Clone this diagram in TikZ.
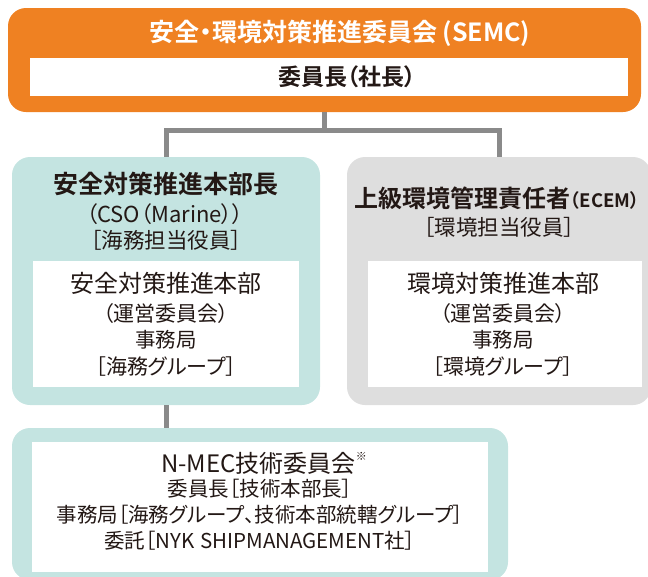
\documentclass[tikz,border=0pt]{standalone}
\usepackage{fontspec}
\setmainfont{Noto Sans CJK JP}[BoldFont={Noto Sans CJK JP Bold},RawFeature=+palt]
\definecolor{semcorange}{HTML}{EF8122}
\definecolor{tealfill}{HTML}{C4E4E1}
\definecolor{grayfill}{HTML}{DEDEDE}
\definecolor{connc}{HTML}{8A8A8A}
\definecolor{txt}{HTML}{231815}
\newcommand{\fs}[1]{\fontsize{#1}{#1}\selectfont}
\begin{document}
\begin{tikzpicture}[x=1pt,y=-1pt,
  outerbox/.style={rounded corners=18pt, inner sep=0pt},
  whitebox/.style={fill=white, inner sep=0pt},
  conn/.style={draw=connc, line width=5pt},
  lbl/.style={inner sep=0pt, text=txt, anchor=center}]
\useasboundingbox (0,0) rectangle (648,576);
\clip (0,0) rectangle (648,576);
% top orange
\node[outerbox, fill=semcorange, minimum width=633pt, minimum height=104pt] (semc) at (324.5,60) {};
\node[whitebox, minimum width=598pt, minimum height=38pt] (semcw) at (329,77) {};
\node[lbl, text=white, font=\bfseries\fs{25}] (semct) at (340,33) {安全・環境対策推進委員会 (SEMC)};
\node[lbl, font=\bfseries\fs{23}] (chair) at (347,77) {委員長（社長）};
% left teal
\node[outerbox, fill=tealfill, minimum width=308pt, minimum height=248pt] (safe) at (166,281) {};
\node[whitebox, minimum width=266pt, minimum height=126pt] (safew) at (166,324) {};
\node[lbl, font=\bfseries\fs{25}] (safet) at (166,184) {安全対策推進本部長};
\node[lbl, font=\fs{22}] (cso) at (165,214) {（CSO（Marine））};
\node[lbl, font=\fs{21.5}] (kaimu) at (166,240) {［海務担当役員］};
\node[lbl, font=\fs{24}] (safe1) at (166,283) {安全対策推進本部};
\node[lbl, font=\fs{21}] (safe2) at (166,314) {（運営委員会）};
\node[lbl, font=\fs{20.5}] (safe3) at (166,340) {事務局};
\node[lbl, font=\fs{21}] (safe4) at (166,367) {［海務グループ］};
% right gray
\node[outerbox, fill=grayfill, minimum width=304pt, minimum height=248pt] (env) at (499,281) {};
\node[whitebox, minimum width=274pt, minimum height=126pt] (envw) at (505,324) {};
\node[lbl, font=\bfseries\fs{24}] (envt) at (497,198) {上級環境管理責任者{\fs{18.5}（ECEM）}};
\node[lbl, font=\fs{21.5}] (envr) at (499,227) {［環境担当役員］};
\node[lbl, font=\fs{24}] (env1) at (503,283) {環境対策推進本部};
\node[lbl, font=\fs{21}] (env2) at (503,314) {（運営委員会）};
\node[lbl, font=\fs{20.5}] (env3) at (503,340) {事務局};
\node[lbl, font=\fs{21}] (env4) at (503,367) {［環境グループ］};
% bottom teal
\node[outerbox, fill=tealfill, minimum width=496pt, minimum height=152pt] (nmec) at (260,504) {};
\node[whitebox, minimum width=456pt, minimum height=130pt] (nmecw) at (260,507) {};
\node[lbl, font=\fs{24}] (nmec1) at (264,463) {N-MEC技術委員会\raisebox{0.5em}{\fs{11}※}};
\node[lbl, font=\fs{20.5}] (nmec2) at (260,489) {委員長［技術本部長］};
\node[lbl, font=\fs{20.5}] (nmec3) at (260,515) {事務局［海務グループ、技術本部統轄グループ］};
\node[lbl, font=\fs{20.5}] (nmec4) at (260,541) {委託［NYK\hspace{0.28em}SHIPMANAGEMENT社］};
% connectors
\coordinate (jn) at (324.5,130);
\draw[conn] (semc.south) -- (jn);
\draw[conn] (safe.north) |- (jn) -| (env.north);
\draw[conn] (safe.south) -- (nmec.north -| safe.south);
\end{tikzpicture}
\end{document}
